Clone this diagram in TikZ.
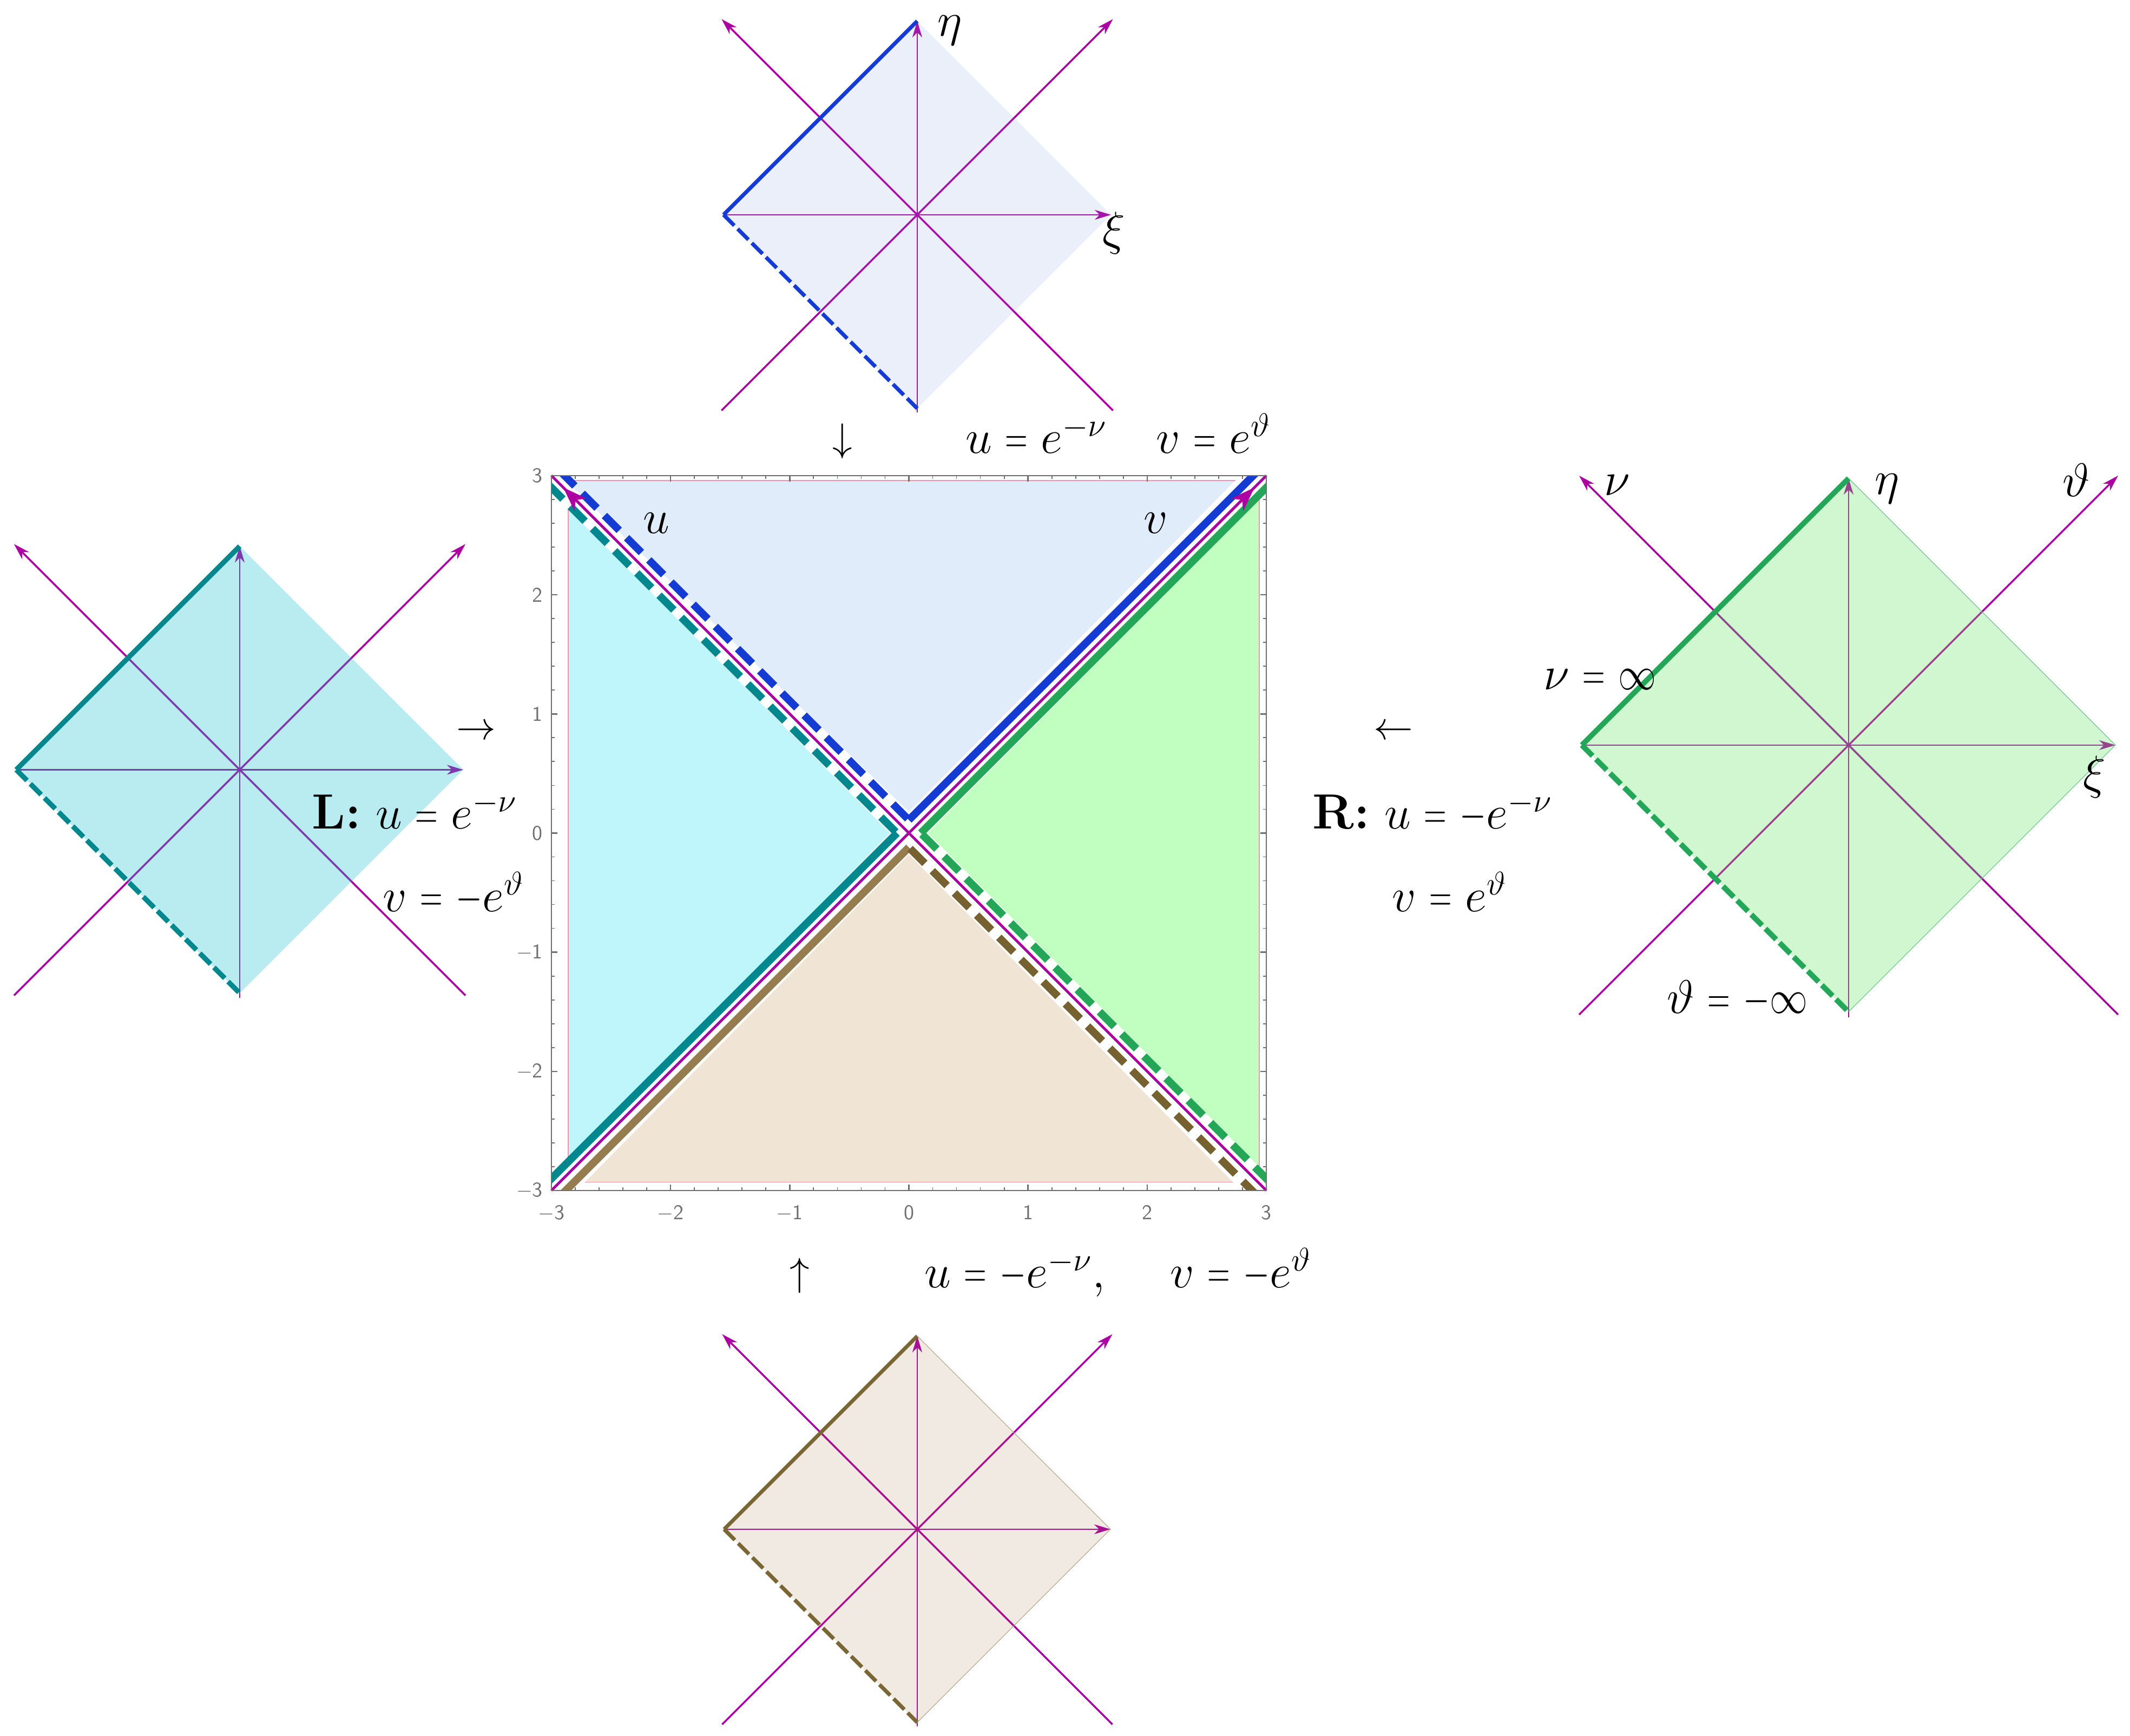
\documentclass[tikz,border=0pt]{standalone}
\usepackage{graphicx}
\usetikzlibrary{arrows.meta}

\definecolor{axmag}{RGB}{172,0,162}
\definecolor{frgray}{RGB}{110,110,110}
\definecolor{topblue}{RGB}{20,60,210}
\definecolor{topfill}{RGB}{224,236,250}
\definecolor{lteal}{RGB}{0,136,142}
\definecolor{lfill}{RGB}{190,246,252}
\definecolor{rgreen}{RGB}{36,166,88}
\definecolor{rfill}{RGB}{192,255,192}
\definecolor{bbrown}{RGB}{148,124,78}
\definecolor{bbrowndk}{RGB}{118,98,48}
\definecolor{bfill}{RGB}{240,228,212}
\definecolor{bolive}{RGB}{122,102,50}
\definecolor{pinkline}{RGB}{238,150,170}
% tints of the small patches, laid over the axes
\definecolor{toptint}{RGB}{122,148,222}
\definecolor{ltint}{RGB}{22,192,205}
\definecolor{rtint}{RGB}{98,228,98}
\definecolor{btint}{RGB}{155,115,62}

% narrower relation / minus / infinity, as in the original labels
\newcommand{\eqsym}{\mathrel{\scalebox{0.66}[1]{$=$}}}
\newcommand{\minsym}{\mathbin{\scalebox{0.72}[1]{$-$}}}
\newcommand{\infsym}{\mathord{\scalebox{0.8}[1]{$\infty$}}}

\tikzset{
  lab/.style={font=\fontsize{26}{31}\selectfont, inner sep=0pt},
  arrowlab/.style={font=\fontsize{21}{25}\selectfont, inner sep=0pt},
  ticklab/.style={font=\fontsize{11}{13}\selectfont\sffamily, text=frgray, inner sep=0pt},
  axtip/.style={-{Stealth[length=3mm,width=1.8mm,inset=0.9mm]}},
  nullaxis/.style={axmag, line width=1pt, axtip},
  coordaxis/.style={axmag, line width=0.8pt, axtip},
  patchdash/.style={dash pattern=on 8pt off 2.5pt},
  heavy/.style={line width=4pt},
  heavydash/.style={line width=4pt, dash pattern=on 11pt off 5.5pt},
  regionedge/.style={pinkline, line width=0.5pt},
}

% one Rindler patch in unit coordinates: edge colour, tint, tint opacity, edge width
\newcommand{\wedgepatch}[4]{%
  \draw[nullaxis] (1.01,-1.01) -- (-1.01,1.01);
  \draw[nullaxis] (-1.01,-1.01) -- (1.01,1.01);
  \draw[coordaxis] (0,-1.02) -- (0,1);
  \draw[coordaxis] (-1,0) -- (1,0);
  \fill[#2, fill opacity=#3] (-1,0) -- (0,1) -- (1,0) -- (0,-1) -- cycle;
  \draw[#1, line width=#4] (-1,0) -- (0,1);
  \draw[#1, line width=#4, patchdash] (-1,0) -- (0,-1);
}

\begin{document}
\begin{tikzpicture}
  \useasboundingbox (0,0) rectangle (39.36,32.08);

  % ---- central (u,v) plane ----
  \begin{scope}[shift={(16.795,16.685)}, scale=2.2017]
    \begin{scope}
      \clip (-3,-3) rectangle (3,3);
      % the four wedges
      \fill[topfill] (-2.88,2.96) -- (2.74,2.96) -- (0,0.18) -- cycle;
      \fill[lfill] (-2.86,2.72) -- (-0.16,0) -- (-2.86,-2.76) -- cycle;
      \fill[rfill] (0.16,0) -- (2.94,2.8) -- (2.94,-2.8) -- cycle;
      \fill[bfill] (0,-0.18) -- (-2.72,-2.93) -- (2.72,-2.93) -- cycle;
      \draw[regionedge] (-2.88,2.96) -- (2.74,2.96);
      \draw[regionedge] (-2.86,2.72) -- (-2.86,-2.76);
      \draw[regionedge] (2.94,2.8) -- (2.94,-2.8);
      \draw[regionedge] (-2.72,-2.93) -- (2.72,-2.93);
      % horizons of each wedge
      \draw[topblue, heavydash] (-0.01,0.12) -- (-2.92,3.03);
      \draw[topblue, heavy] (0,0.11) -- (2.92,3.03);
      \draw[lteal, heavydash] (-0.11,0.01) -- (-3.05,2.95);
      \draw[lteal, heavy] (-0.1,0) -- (-3.05,-2.95);
      \draw[rgreen, heavy] (0.1,0) -- (3.05,2.95);
      \draw[rgreen, heavydash] (0.11,-0.01) -- (3.05,-2.95);
      \draw[bbrown, heavy] (0,-0.12) -- (-2.93,-3.05);
      \draw[bbrowndk, heavydash] (0.01,-0.13) -- (2.93,-3.05);
    \end{scope}
    % null axes u and v
    \draw[axmag, line width=1.4pt] (-3,-3) -- (3,3);
    \draw[axmag, line width=1.4pt] (3,-3) -- (-3,3);
    \draw[axmag, line width=1.4pt, -{Stealth[length=4.5mm,width=3.2mm,inset=1.3mm]}] (2.5,2.5) -- (2.9,2.9);
    \draw[axmag, line width=1.4pt, -{Stealth[length=4.5mm,width=3.2mm,inset=1.3mm]}] (-2.5,2.5) -- (-2.9,2.9);
    \node[lab] (ulab) at (-2.12,2.6) {$u$};
    \node[lab] (vlab) at (2.07,2.6) {$v$};
    % frame with ticks
    \draw[frgray, line width=0.7pt] (-3,-3) rectangle (3,3);
    \foreach \t in {-3,-2.8,...,3.01} {
      \draw[frgray, line width=0.5pt] (\t,-3) -- ++(0,0.028) (\t,3) -- ++(0,-0.028)
        (-3,\t) -- ++(0.028,0) (3,\t) -- ++(-0.028,0);
    }
    \foreach \t/\s in {-3/$-$3,-2/$-$2,-1/$-$1,0/0,1/1,2/2,3/3} {
      \draw[frgray, line width=0.7pt] (\t,-3) -- ++(0,0.05) (\t,3) -- ++(0,-0.05)
        (-3,\t) -- ++(0.05,0) (3,\t) -- ++(-0.05,0);
      \node[ticklab, anchor=north] at (\t,-3.12) {\s};
      \node[ticklab, anchor=east] at (-3.07,\t) {\s};
    }
  \end{scope}

  % ---- future wedge (top) ----
  \begin{scope}[shift={(16.95,28.11)}, scale=3.58]
    \wedgepatch{topblue}{toptint}{0.15}{2pt}
  \end{scope}
  \node[lab] (topeta) at (17.55,31.52) {$\eta$};
  \node[lab] (topxi) at (20.58,27.77) {$\xi$};
  \node[arrowlab] (downarr) at (15.57,23.93) {$\downarrow$};
  \node[lab, anchor=base west] (topmap) at (17.84,23.70) {$u \eqsym e^{-\nu}\quad v \eqsym e^{\vartheta}$};

  % ---- left wedge ----
  \begin{scope}[shift={(4.43,17.855)}, scale=4.13]
    \wedgepatch{lteal}{ltint}{0.3}{2.6pt}
  \end{scope}
  \node[arrowlab] (rightarr) at (8.80,18.55) {$\rightarrow$};
  \node[lab, anchor=base west] (lmapu) at (5.76,16.76) {\textbf{L:} $u \eqsym e^{-\nu}$};
  \node[lab, anchor=base west] (lmapv) at (7.07,15.23) {$v \eqsym \minsym e^{\vartheta}$};

  % ---- right wedge ----
  \begin{scope}[shift={(34.16,18.31)}, scale=4.93]
    \wedgepatch{rgreen}{rtint}{0.3}{2.8pt}
    \draw[rgreen!70, line width=0.3pt] (0,1) -- (1,0) -- (0,-1);
  \end{scope}
  \node[lab] (rnu) at (29.88,23.11) {$\nu$};
  \node[lab] (reta) at (34.87,23.05) {$\eta$};
  \node[lab] (rtheta) at (38.37,23.21) {$\vartheta$};
  \node[lab] (rxi) at (38.70,17.72) {$\xi$};
  \node[lab, anchor=base west] (nuinf) at (28.52,19.33) {$\nu \eqsym \infsym$};
  \node[lab, anchor=base west] (thinf) at (30.80,13.35) {$\vartheta \eqsym \minsym\infsym$};
  \node[arrowlab] (leftarr) at (25.75,18.55) {$\leftarrow$};
  \node[lab, anchor=base west] (rmapu) at (24.25,16.76) {\textbf{R:} $u \eqsym \minsym e^{-\nu}$};
  \node[lab, anchor=base west] (rmapv) at (25.72,15.23) {$v \eqsym e^{\vartheta}$};

  % ---- past wedge (bottom) ----
  \begin{scope}[shift={(16.95,3.82)}, scale=3.57]
    \wedgepatch{bolive}{btint}{0.15}{2pt}
    \draw[bolive!60, line width=0.3pt] (0,1) -- (1,0) -- (0,-1);
  \end{scope}
  \node[arrowlab] (uparr) at (14.78,8.51) {$\uparrow$};
  \node[lab, anchor=base west] (botmap) at (17.08,8.28) {$u \eqsym \minsym e^{-\nu},\quad\, v \eqsym \minsym e^{\vartheta}$};
\end{tikzpicture}
\end{document}
